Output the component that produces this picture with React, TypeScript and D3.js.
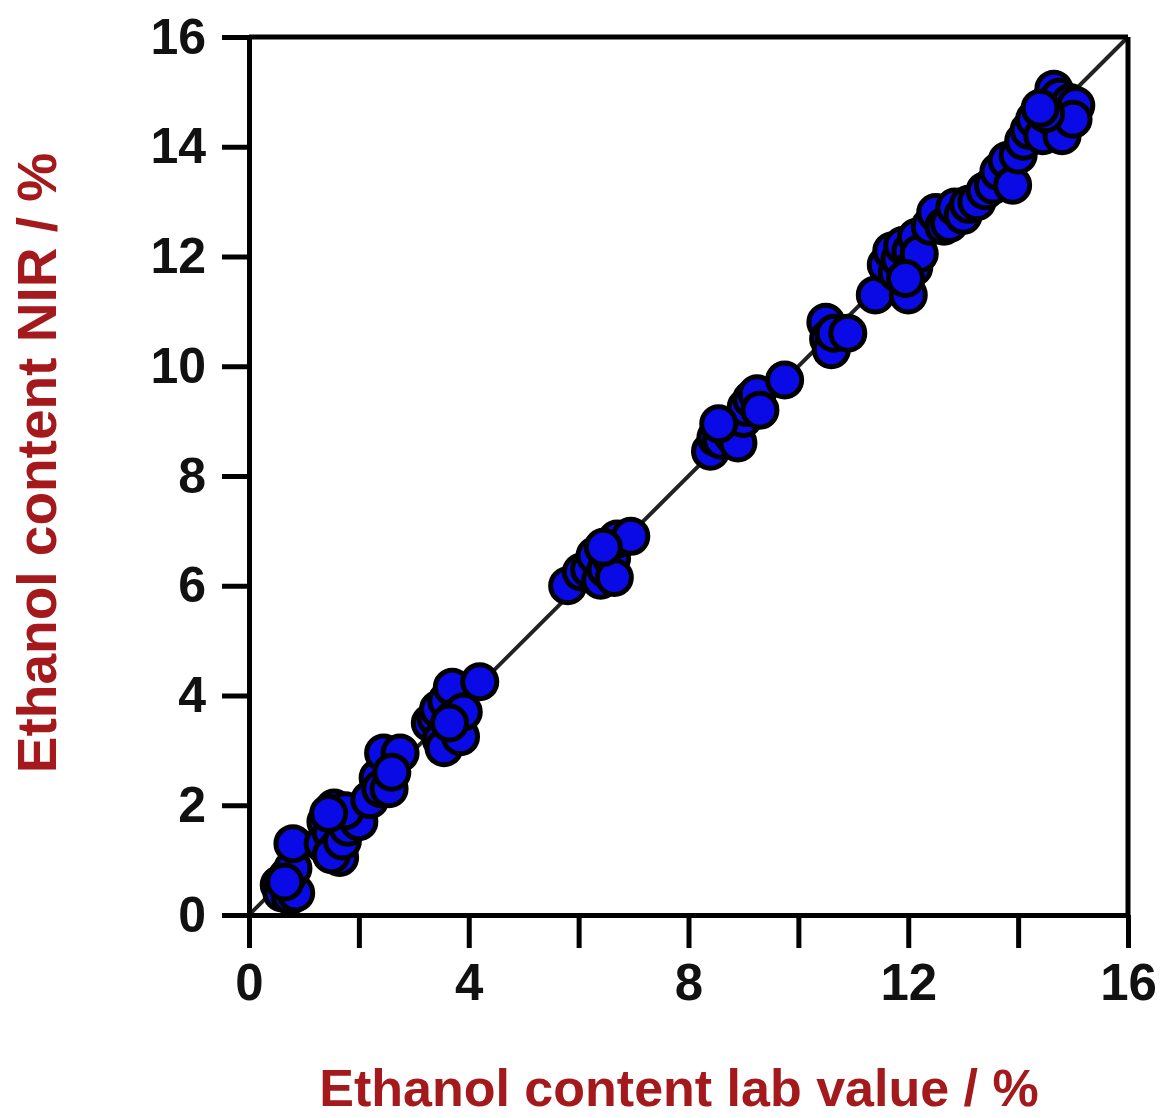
import React, { useRef, useEffect } from 'react';
import * as d3 from 'd3';

// lab value (x) vs NIR prediction (y)
const labValues = [
  0.55, 0.6, 0.75, 0.85, 0.7, 0.8, 0.8, 0.65,
  1.35, 1.4, 1.5, 1.55, 1.6, 1.65, 1.5, 1.7, 1.8, 1.95, 2.0, 1.75, 1.45,
  2.2, 2.35, 2.4, 2.45, 2.55, 2.75, 2.6,
  3.3, 3.4, 3.45, 3.5, 3.55, 3.6, 3.7, 3.75, 3.8, 3.85, 3.9, 3.65, 4.2,
  5.8, 6.05, 6.2, 6.3, 6.4, 6.5, 6.6, 6.65, 6.7, 6.95, 6.45,
  8.4, 8.5, 8.6, 8.7, 8.8, 8.9, 9.0, 9.05, 9.15, 9.25, 9.3, 9.75, 8.55,
  10.5, 10.55, 10.6, 10.65, 10.9,
  11.4, 11.6, 11.7, 11.8, 11.85, 11.9, 12.0, 12.05, 12.1, 12.15, 12.2, 11.95,
  12.4, 12.5, 12.65, 12.75, 12.85, 13.0, 13.1, 13.25, 13.4, 13.55, 13.65, 13.8, 13.9, 14.0,
  14.1, 14.2, 14.3, 14.45, 14.55, 14.6, 14.65, 14.75, 14.8, 14.85, 14.95, 15.05, 15.0, 14.5, 14.4,
];
const nirValues = [
  0.55, 0.4, 0.35, 0.4, 0.7, 0.85, 1.3, 0.6,
  1.3, 1.7, 1.5, 1.95, 1.2, 1.05, 1.1, 1.35, 1.6, 1.85, 1.7, 1.9, 1.85,
  2.1, 2.5, 2.3, 2.95, 2.3, 2.95, 2.6,
  3.5, 3.6, 3.75, 3.2, 3.05, 3.9, 4.15, 3.6, 3.4, 3.25, 3.7, 3.5, 4.25,
  6.0, 6.25, 6.3, 6.55, 6.1, 6.3, 6.5, 6.15, 6.85, 6.9, 6.7,
  8.45, 8.7, 8.65, 8.9, 8.75, 8.6, 9.05, 9.25, 9.4, 9.5, 9.2, 9.75, 8.95,
  10.8, 10.5, 10.3, 10.6, 10.6,
  11.3, 11.85, 12.1, 11.7, 11.95, 12.2, 11.3, 12.1, 11.8, 12.35, 12.05, 11.6,
  12.55, 12.8, 12.55, 12.6, 12.9, 12.75, 12.95, 13.0, 13.2, 13.3, 13.55, 13.75, 13.3, 13.85,
  14.1, 14.3, 14.5, 14.2, 14.8, 14.55, 15.05, 14.9, 14.2, 14.65, 14.8, 14.75, 14.5, 14.6, 14.7,
];

const xTicks = [0, 2, 4, 6, 8, 10, 12, 14, 16];
const xTickLabels = [0, 4, 8, 12, 16];
const yTicks = [0, 2, 4, 6, 8, 10, 12, 14, 16];

export default function App() {
  const svgRef = useRef<SVGSVGElement>(null);

  useEffect(() => {
    if (!svgRef.current) return;
    d3.select(svgRef.current).selectAll('*').remove();

    const width = 1160;
    const height = 1118;
    const margin = { top: 37, right: 32, bottom: 203, left: 249 };
    const font = '"Liberation Sans", Arial, sans-serif';
    const titleColor = '#a3191c';

    const svg = d3.select(svgRef.current)
      .attr('width', width)
      .attr('height', height)
      .style('background', '#fff');

    const x = d3.scaleLinear().domain([0, 16]).range([margin.left, width - margin.right]);
    const y = d3.scaleLinear().domain([0, 16]).range([height - margin.bottom, margin.top]);

    // 1:1 line
    svg.append('line')
      .attr('x1', x(0)).attr('y1', y(0))
      .attr('x2', x(16)).attr('y2', y(16))
      .attr('stroke', '#222')
      .attr('stroke-width', 4);

    // points
    const pts = labValues.map((v, i) => ({ lab: v, nir: nirValues[i] }));
    svg.append('g')
      .selectAll('circle')
      .data(pts)
      .enter()
      .append('circle')
      .attr('cx', d => x(d.lab))
      .attr('cy', d => y(d.nir))
      .attr('r', 17)
      .attr('fill', '#0a0ae6')
      .attr('stroke', '#000')
      .attr('stroke-width', 5);

    // box: top and right borders
    svg.append('line')
      .attr('x1', x(0)).attr('x2', x(16))
      .attr('y1', y(16)).attr('y2', y(16))
      .attr('stroke', '#000').attr('stroke-width', 5);
    svg.append('line')
      .attr('x1', x(16)).attr('x2', x(16))
      .attr('y1', y(16)).attr('y2', y(0))
      .attr('stroke', '#000').attr('stroke-width', 5);

    // X axis
    svg.append('g')
      .attr('transform', `translate(0,${y(0)})`)
      .call(d3.axisBottom(x)
        .tickValues(xTicks)
        .tickSize(33)
        .tickSizeOuter(0)
        .tickPadding(16)
        .tickFormat(d => (xTickLabels.includes(+d) ? String(d) : '')))
      .call(g => g.select('.domain').attr('stroke', '#000').attr('stroke-width', 5))
      .call(g => g.selectAll('.tick line').attr('stroke', '#000').attr('stroke-width', 5))
      .call(g => g.selectAll('.tick text')
        .attr('fill', '#111')
        .style('font-size', '51px')
        .style('font-weight', 'bold')
        .style('font-family', font));

    // Y axis
    svg.append('g')
      .attr('transform', `translate(${x(0)},0)`)
      .call(d3.axisLeft(y)
        .tickValues(yTicks)
        .tickSize(27)
        .tickSizeOuter(0)
        .tickPadding(16)
        .tickFormat(d3.format('d')))
      .call(g => g.select('.domain').attr('stroke', '#000').attr('stroke-width', 5))
      .call(g => g.selectAll('.tick line').attr('stroke', '#000').attr('stroke-width', 5))
      .call(g => g.selectAll('.tick text')
        .attr('fill', '#111')
        .style('font-size', '50px')
        .style('font-weight', 'bold')
        .style('font-family', font));

    // axis titles
    svg.append('text')
      .attr('x', 679)
      .attr('y', 1106)
      .attr('text-anchor', 'middle')
      .attr('fill', titleColor)
      .style('font-size', '52px')
      .style('font-weight', 'bold')
      .style('font-family', font)
      .text('Ethanol content lab value / %');

    svg.append('text')
      .attr('transform', 'translate(56,463) rotate(-90)')
      .attr('text-anchor', 'middle')
      .attr('fill', titleColor)
      .style('font-size', '55px')
      .style('font-weight', 'bold')
      .style('font-family', font)
      .text('Ethanol content NIR / %');
  }, []);

  return (
    <div style={{ position: 'absolute', left: 0, top: 0 }}>
      <svg ref={svgRef} style={{ display: 'block' }} />
    </div>
  );
}
